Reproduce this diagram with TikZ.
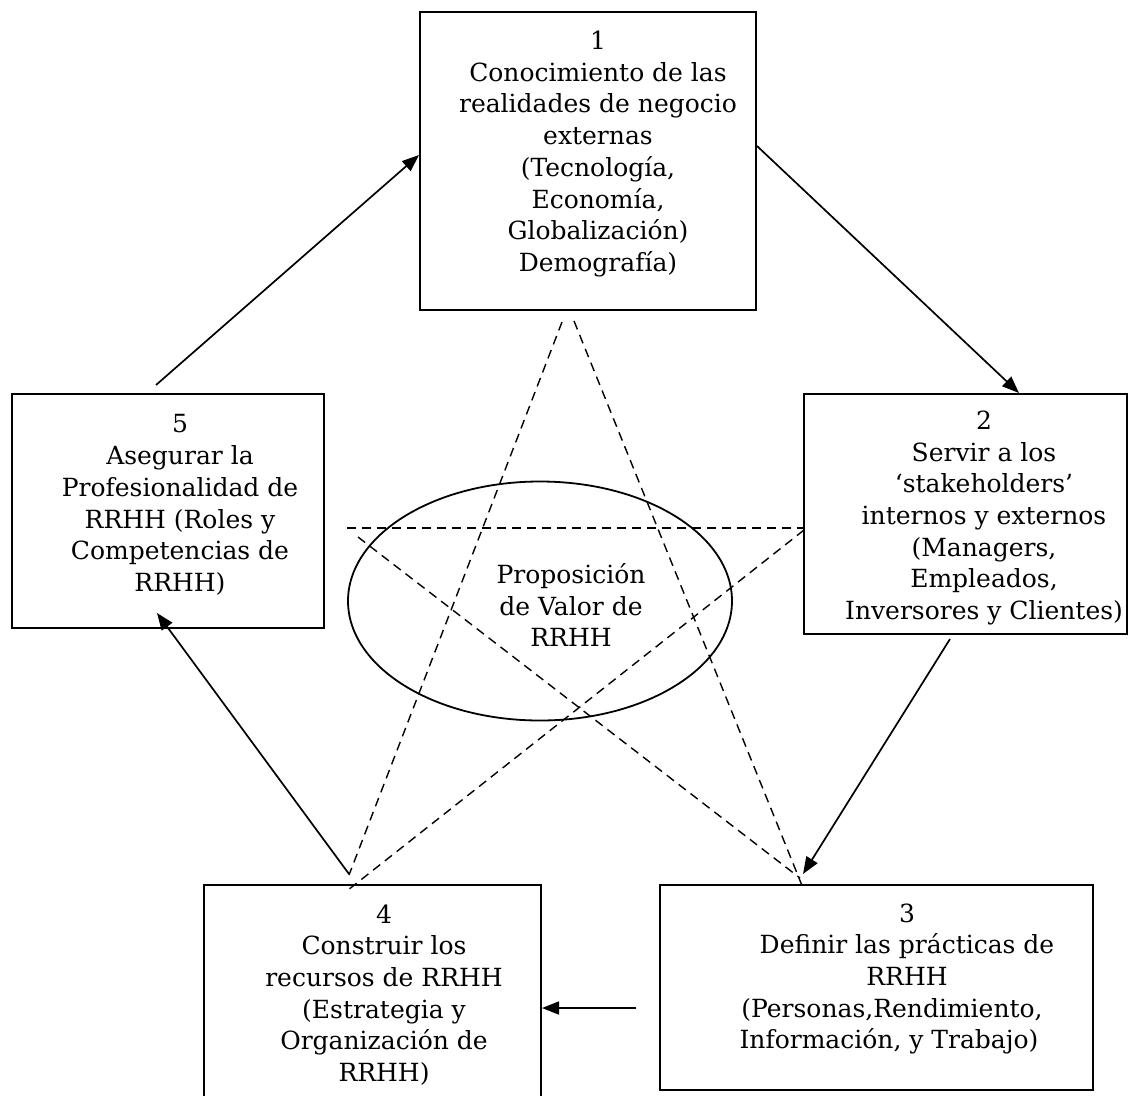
\documentclass[tikz,border=0pt]{standalone}
\usepackage{fontspec}
\setmainfont{DejaVu Serif}
\usetikzlibrary{arrows.meta,shapes.geometric}
\begin{document}
\begin{tikzpicture}[x=1pt,y=-1pt,
  box/.style={draw,line width=2pt,inner sep=0pt},
  txt/.style={align=center,inner sep=0pt,font=\fontsize{25}{31.7}\selectfont},
  arr/.style={line width=1.7pt,-{Triangle[length=17pt,width=13pt]}},
  dsh/.style={line width=1.4pt,dash pattern=on 9pt off 6pt}]
\useasboundingbox (0,0) rectangle (1129,1095);
\clip (0,0) rectangle (1129,1095);
\fill[white] (0,0) rectangle (1129,1095);
% boxes
\node[box,minimum width=336pt,minimum height=298pt] (b1) at (588,161) {};
\node[box,minimum width=323pt,minimum height=240pt] (b2) at (965.5,514) {};
\node[box,minimum width=312pt,minimum height=234pt] (b5) at (168,511) {};
\node[box,minimum width=337pt,minimum height=230pt] (b4) at (372.5,1000) {};
\node[box,minimum width=433pt,minimum height=205pt] (b3) at (876.5,987.5) {};
\node[draw,ellipse,line width=1.8pt,minimum width=384pt,minimum height=239pt,inner sep=0pt] (ell) at (540,601) {};
% texts
\node[txt] (t1) at (598,154) {1\\Conocimiento de las\\realidades de negocio\\externas\\(Tecnología,\\Economía,\\Globalización)\\Demografía)};
\node[txt] (t2) at (984,518) {2\\Servir a los\\‘stakeholders’\\internos y externos\\(Managers,\\Empleados,\\Inversores y Clientes)};
\node[txt] (t5) at (180,505) {5\\Asegurar la\\Profesionalidad de\\RRHH (Roles y\\Competencias de\\RRHH)};
\node[txt] (t4) at (384,995) {4\\Construir los\\recursos de RRHH\\(Estrategia y\\Organización de\\RRHH)};
\node[txt] (t3) at (907,979) {3\\Definir las prácticas de\\RRHH\\\hspace*{-30pt}(Personas,Rendimiento,\\\hspace*{-36pt}Información, y Trabajo)};
\node[txt] (tv) at (571,605) {Proposición\\de Valor de\\RRHH};
% star (dashed)
\coordinate (sa) at (562,322);
\coordinate (sb) at (574,321);
\coordinate (sc) at (349,875);
\coordinate (sd) at (348,890);
\coordinate (se) at (800,878);
\coordinate (sf) at (803,888);
\coordinate (sg) at (804,528);
\coordinate (sh) at (804,530);
\coordinate (si) at (347,528);
\coordinate (sj) at (358,537);
\draw[dsh] (sa) -- (sc);
\draw[dsh] (sb) -- (sf);
\draw[dsh] (si) -- (sg);
\draw[dsh] (sj) -- (se);
\draw[dsh] (sh) -- (sd);
% cycle arrows
\draw[arr] ([shift={(-12pt,8pt)}]b5.north) -- ([yshift=6pt]b1.west);
\draw[arr] ([yshift=15pt]b1.east) -- ([xshift=53.5pt]b2.north);
\draw[arr] ([shift={(-15.5pt,-4pt)}]b2.south) -- ([shift={(-73.5pt,10pt)}]b3.north);
\draw[arr] ([shift={(-23pt,-20.5pt)}]b3.west) -- ([yshift=-8pt]b4.east);
\draw[arr] ([shift={(-23.5pt,10pt)}]b4.north) -- ([shift={(-11pt,16pt)}]b5.south);
\end{tikzpicture}
\end{document}
